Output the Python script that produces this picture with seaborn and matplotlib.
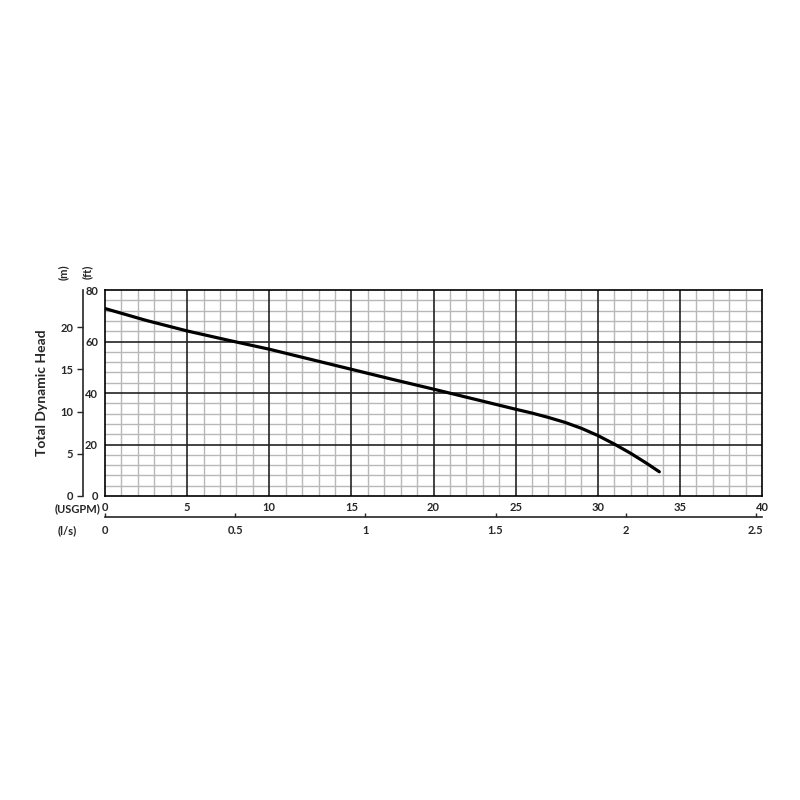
import seaborn as sns
import matplotlib.pyplot as plt
from matplotlib.ticker import MultipleLocator, FuncFormatter

# curva da bomba (USGPM x ft)
flow_gpm = [0, 2.5, 5, 7.5, 10, 12.5, 15, 17.5, 20, 22.5, 25, 26, 27, 28, 29, 30, 31, 32, 33, 33.75]
head_ft = [72.8, 68.2, 64.1, 60.5, 57.0, 53.1, 49.2, 45.3, 41.5, 37.6, 33.7, 32.2, 30.5, 28.6, 26.3,
           23.5, 20.2, 16.6, 12.6, 9.4]

gpm_ticks = [0, 5, 10, 15, 20, 25, 30, 35, 40]
ft_ticks = [0, 20, 40, 60, 80]
m_ticks = [0, 5, 10, 15, 20]
ls_ticks = [0, 0.5, 1, 1.5, 2, 2.5]

FT_TO_M = 0.3048
GPM_TO_LS = 0.0630902

sns.set_style("white")
plt.rcParams['font.family'] = ['Lato', 'DejaVu Sans']

fig = plt.figure(figsize=(8, 8), dpi=100)
ax = fig.add_axes([105 / 800, 1 - 496 / 800, 657 / 800, 206 / 800])

sns.lineplot(x=flow_gpm, y=head_ft, ax=ax, color='black', linewidth=2.3, zorder=5)

ax.set_xlim(0, 40)
ax.set_ylim(0, 80)
ax.set_xticks(gpm_ticks)
ax.set_yticks(ft_ticks)
ax.xaxis.set_minor_locator(MultipleLocator(1))
ax.yaxis.set_minor_locator(MultipleLocator(4))
ax.grid(which='minor', color='#b8b8b8', linewidth=1.0, zorder=1)
# linhas principais por cima da grade fina
for g in gpm_ticks[1:-1]:
    ax.axvline(g, color='#222222', linewidth=1.2, zorder=2)
for f in ft_ticks[1:-1]:
    ax.axhline(f, color='#222222', linewidth=1.2, zorder=2)
ax.set_axisbelow(True)
ax.tick_params(which='both', length=0)
ax.tick_params(axis='x', pad=4, labelsize=8)
ax.tick_params(axis='y', pad=5, labelsize=8)
for lbl in ax.get_xticklabels() + ax.get_yticklabels():
    lbl.set_fontweight('bold')
for s in ax.spines.values():
    s.set_color('black')
    s.set_linewidth(1.2)

# eixo em metros
ax_m = ax.secondary_yaxis(-0.0335, functions=(lambda f: f * FT_TO_M, lambda m: m / FT_TO_M))
ax_m.set_yticks(m_ticks)
ax_m.tick_params(direction='out', length=4, width=1, pad=3, labelsize=8)
ax_m.spines['left'].set_linewidth(1.2)
for lbl in ax_m.get_yticklabels():
    lbl.set_fontweight('bold')

# eixo em l/s
ax_ls = ax.secondary_xaxis(-0.102, functions=(lambda g: g * GPM_TO_LS, lambda l: l / GPM_TO_LS))
ax_ls.set_xticks(ls_ticks)
ax_ls.xaxis.set_major_formatter(FuncFormatter(lambda v, p: f'{v:g}'))
ax_ls.tick_params(direction='in', length=3, width=1, pad=6, labelsize=8)
ax_ls.spines['bottom'].set_linewidth(1.2)
for lbl in ax_ls.get_xticklabels():
    lbl.set_fontweight('bold')

fig.text(42 / 800, 1 - 393 / 800, 'Total Dynamic Head', rotation=90, ha='center', va='center',
         fontsize=10, fontweight='bold')
fig.text(63 / 800, 1 - 272 / 800, '(m)', rotation=90, ha='center', va='center', fontsize=8, fontweight='bold')
fig.text(87 / 800, 1 - 272 / 800, '(ft)', rotation=90, ha='center', va='center', fontsize=8, fontweight='bold')
fig.text(78 / 800, 1 - 509 / 800, '(USGPM)', ha='center', va='center', fontsize=8, fontweight='bold')
fig.text(67 / 800, 1 - 531 / 800, '(l/s)', ha='center', va='center', fontsize=8, fontweight='bold')

fig.savefig('out.png', dpi=100, facecolor='white')
